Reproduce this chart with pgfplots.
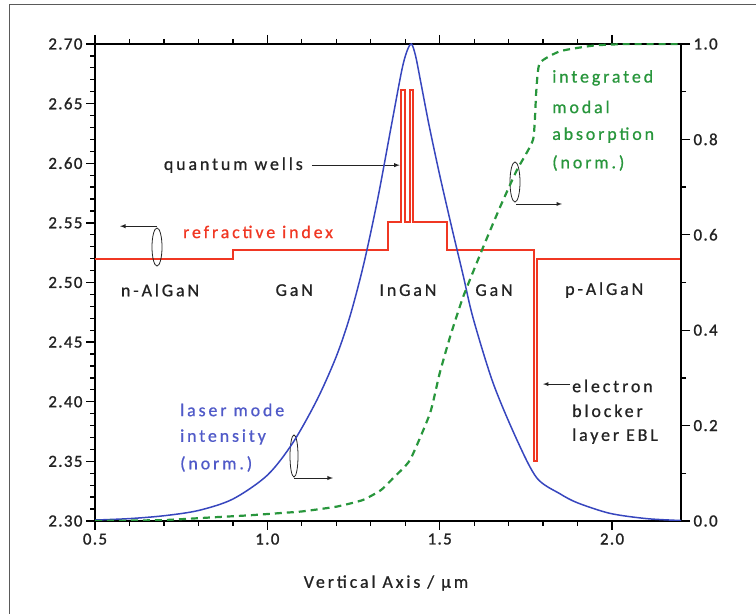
\documentclass[border=0pt]{standalone}
\usepackage{pgfplots}
\pgfplotsset{compat=1.18}
\usepackage{fontspec}
\setmainfont{Carlito}[LetterSpace=16, FakeBold=0.8]
\newfontfamily\tickfont{Carlito}[LetterSpace=8, FakeBold=1.2]
\definecolor{rline}{RGB}{240,55,35}
\definecolor{bline}{RGB}{55,70,190}
\definecolor{btext}{RGB}{80,90,200}
\definecolor{gline}{RGB}{40,150,60}
\definecolor{tgray}{RGB}{35,35,35}
\definecolor{fgray}{RGB}{90,90,90}
\pgfplotsset{
  common/.style={
    at={(95bp,93bp)}, anchor=south west, scale only axis,
    width=586bp, height=477bp, xmin=0.5, xmax=2.2,
    tick align=outside,
    major tick length=9bp, minor tick length=5bp,
    every tick/.style={black, line width=1.3bp},
    axis line style={line width=1.6bp, black},
    tick label style={font=\tickfont\fontsize{17}{19}\selectfont, text=tgray},
    /pgf/number format/assume math mode=true,
  },
}
\tikzset{lab/.style={font=\fontsize{18}{21}\selectfont, inner sep=0pt}}
\begin{document}
\begin{tikzpicture}[x=1bp,y=1bp]
\useasboundingbox (0,0) rectangle (756,614);
\draw[fgray, line width=1.2] (9.5,0) -- (9.5,609.5) -- (756,609.5);
\begin{axis}[common,
  ymin=2.30, ymax=2.70,
  xtick={0.5,1.0,1.5,2.0}, minor x tick num=4,
  ytick={2.30,2.35,2.40,2.45,2.50,2.55,2.60,2.65,2.70}, minor y tick num=4,
  ytick pos=left, xtick pos=both,
  yticklabel style={/pgf/number format/.cd, fixed, fixed zerofill, precision=2},
  xticklabel style={/pgf/number format/.cd, fixed, fixed zerofill, precision=1},
  clip=false,
]
\addplot[rline, line width=2bp, sharp plot] coordinates {
(0.5,2.520) (0.9,2.520) (0.9,2.527) (1.35,2.527) (1.35,2.551)
(1.388,2.551) (1.388,2.661) (1.398,2.661) (1.398,2.551)
(1.413,2.551) (1.413,2.661) (1.423,2.661) (1.423,2.551)
(1.522,2.551) (1.522,2.527) (1.774,2.527) (1.774,2.350) (1.781,2.350) (1.781,2.520) (2.2,2.520)};
% annotations
\node[lab, text=tgray, anchor=east] at (rel axis cs:0.355,0.746) {quantum wells};
\draw[-latex, tgray, line width=0.9bp] (rel axis cs:0.370,0.746) -- (rel axis cs:0.520,0.746);
\node[lab, text=rline, anchor=west] at (rel axis cs:0.150,0.606) {refractive index};
\draw[tgray, line width=0.8bp] (rel axis cs:0.1058,0.5744) ellipse [x radius=5bp, y radius=19bp];
\draw[-latex, tgray, line width=0.9bp] (rel axis cs:0.1058,0.618) -- (rel axis cs:0.0427,0.618);
\node[lab, text=tgray] at (rel axis cs:0.111,0.484) {n-AlGaN};
\node[lab, text=tgray] at (rel axis cs:0.340,0.484) {GaN};
\node[lab, text=tgray] at (rel axis cs:0.534,0.484) {InGaN};
\node[lab, text=tgray] at (rel axis cs:0.681,0.484) {GaN};
\node[lab, text=tgray] at (rel axis cs:0.869,0.484) {p-AlGaN};
\node[lab, text=tgray, anchor=west] at (rel axis cs:0.814,0.283) {electron};
\node[lab, text=tgray, anchor=west] at (rel axis cs:0.814,0.231) {blocker};
\node[lab, text=tgray, anchor=west] at (rel axis cs:0.814,0.178) {layer EBL};
\draw[-latex, tgray, line width=0.9bp] (rel axis cs:0.8106,0.287) -- (rel axis cs:0.7645,0.287);
\node[lab, text=btext, anchor=west] at (rel axis cs:0.145,0.2327) {laser mode};
\node[lab, text=btext, anchor=west] at (rel axis cs:0.145,0.176) {intensity};
\node[lab, text=btext, anchor=west] at (rel axis cs:0.145,0.1195) {(norm.)};
\draw[tgray, line width=0.8bp] (rel axis cs:0.3396,0.1363) ellipse [x radius=4bp, y radius=21bp];
\draw[-latex, tgray, line width=0.9bp] (rel axis cs:0.3396,0.0901) -- (rel axis cs:0.4061,0.0901);
\node[lab, text=gline, anchor=west] at (rel axis cs:0.780,0.929) {integrated};
\node[lab, text=gline, anchor=west] at (rel axis cs:0.780,0.868) {modal};
\node[lab, text=gline, anchor=west] at (rel axis cs:0.780,0.809) {absorption};
\node[lab, text=gline, anchor=west] at (rel axis cs:0.780,0.7505) {(norm.)};
\draw[tgray, line width=0.8bp] (rel axis cs:0.7167,0.7107) ellipse [x radius=5bp, y radius=20bp];
\draw[-latex, tgray, line width=0.9bp] (rel axis cs:0.7184,0.6646) -- (rel axis cs:0.7969,0.6646);
\node[lab, text=tgray] at (rel axis cs:0.4966,-0.130) {Vertical Axis / µm};
\end{axis}
\begin{axis}[common,
  ymin=0, ymax=1,
  axis y line*=right, axis x line=none,
  ytick={0,0.2,0.4,0.6,0.8,1.0}, minor y tick num=1,
  yticklabel style={/pgf/number format/.cd, fixed, fixed zerofill, precision=1},
]
\addplot[bline, line width=1.5bp, smooth, tension=0.5] coordinates {
(0.50,0.002) (0.60,0.005) (0.70,0.011) (0.80,0.022) (0.90,0.046) (1.00,0.096)
(1.074,0.164) (1.144,0.254) (1.20,0.345) (1.24,0.430) (1.28,0.540) (1.32,0.675)
(1.36,0.830) (1.39,0.945) (1.405,0.985) (1.418,1.000) (1.43,0.975) (1.445,0.920)
(1.469,0.830) (1.50,0.725) (1.536,0.612) (1.568,0.515) (1.597,0.425)
(1.655,0.289) (1.724,0.170) (1.782,0.090) (1.849,0.057) (1.90,0.038) (1.994,0.016)
(2.10,0.005) (2.20,0.001)};
\addplot[gline, line width=2.2bp, dash pattern=on 7bp off 5bp, smooth, tension=0.3] coordinates {
(0.50,0.000) (0.70,0.002) (0.85,0.008) (0.95,0.012) (1.045,0.017) (1.10,0.020)
(1.20,0.030) (1.277,0.044) (1.33,0.065) (1.365,0.090) (1.414,0.128) (1.472,0.226)
(1.50,0.310) (1.53,0.386) (1.568,0.470) (1.626,0.574) (1.675,0.658) (1.724,0.736)
(1.771,0.800) (1.780,0.900) (1.790,0.960) (1.85,0.985) (1.95,0.997) (2.05,1.000) (2.20,1.000)};
\end{axis}
\end{tikzpicture}
\end{document}
